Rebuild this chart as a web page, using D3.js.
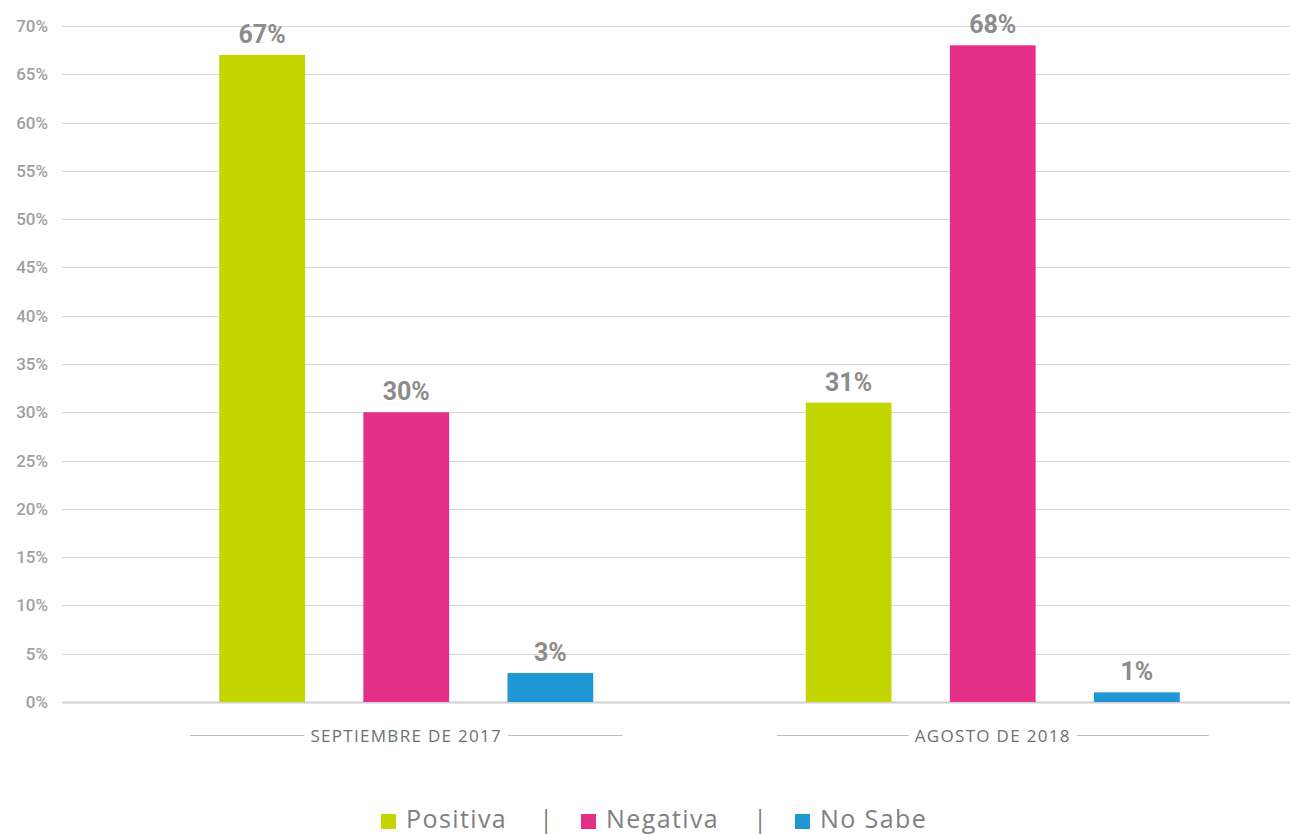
<!DOCTYPE html>
<html><head><meta charset="utf-8">
<script src="https://cdn.jsdelivr.net/npm/d3@7"></script>
<style>body{margin:0;background:#fff}svg{display:block}</style>
</head><body>
<svg id="c" width="1290" height="834"></svg>
<script>
const categories = ["SEPTIEMBRE DE 2017", "AGOSTO DE 2018"];
const seriesNames = ["Positiva", "Negativa", "No Sabe"];
const positiva = [67, 31];
const negativa = [30, 68];
const noSabe = [3, 1];
const yTicks = [0,5,10,15,20,25,30,35,40,45,50,55,60,65,70];
const colors = ["#c4d600", "#e52e87", "#1e97d4"];

const seriesValues = [positiva, negativa, noSabe];
const svg = d3.select("#c");
const y = d3.scaleLinear().domain([0,70]).range([702,26]);
const x0 = d3.scaleBand().domain(categories).range([113,1286]).padding(0);
const x1 = d3.scaleBand().domain(seriesNames)
  .range([x0.bandwidth()/2 - 187, x0.bandwidth()/2 + 187]).paddingInner(0.405).paddingOuter(0);

// grid
svg.append("g").selectAll("line").data(yTicks).join("line")
  .attr("x1",62).attr("x2",1290)
  .attr("y1",d=>Math.round(y(d))+0.5).attr("y2",d=>Math.round(y(d))+0.5)
  .attr("stroke",d=>d===0?"#cfcfcf":"#d6d6d6").attr("stroke-width",d=>d===0?2:1);

// y tick labels
svg.append("g").selectAll("text").data(yTicks).join("text")
  .attr("x",48).attr("y",d=>y(d)+6).attr("text-anchor","end")
  .attr("font-family","Roboto, sans-serif").attr("font-weight",500)
  .attr("font-size",17).attr("fill","#a0a0a0").text(d=>d+"%");

// bars
const groups = svg.append("g").selectAll("g").data(categories).join("g")
  .attr("transform",d=>`translate(${x0(d)},0)`);
groups.each(function(cat,ci){
  const g = d3.select(this);
  seriesNames.forEach((s,si)=>{
    const v = seriesValues[si][ci];
    g.append("rect").attr("x",x1(s)).attr("width",x1.bandwidth())
      .attr("y",y(v)).attr("height",y(0)-y(v)).attr("fill",colors[si]);
    g.append("text").attr("x",x1(s)+x1.bandwidth()/2).attr("y",y(v)-12)
      .attr("text-anchor","middle").attr("font-family","Roboto, sans-serif")
      .attr("font-weight",700).attr("font-size",25).attr("fill","#8c8c8c")
      .text(v+"%");
  });
  // category label with lines
  const cx = x0.bandwidth()/2;
  const t = g.append("text").attr("x",cx).attr("y",742).attr("text-anchor","middle")
    .attr("font-family","'Open Sans', sans-serif").attr("font-size",17)
    .attr("letter-spacing",1.3).attr("fill","#6f6f6f").text(cat);
  const w = t.node().getComputedTextLength();
  g.append("line").attr("x1",cx-216).attr("x2",cx-w/2-6).attr("y1",735.5).attr("y2",735.5)
    .attr("stroke","#bdbdbd");
  g.append("line").attr("x1",cx+w/2+6).attr("x2",cx+216).attr("y1",735.5).attr("y2",735.5)
    .attr("stroke","#bdbdbd");
});

// legend
const lg = svg.append("g");
const legendX = [381, 581, 795];
const sepX = [546, 760];
seriesNames.forEach((s,i)=>{
  lg.append("rect").attr("x",legendX[i]).attr("y",814).attr("width",15).attr("height",15).attr("fill",colors[i]);
  lg.append("text").attr("x",legendX[i]+25).attr("y",828)
    .attr("font-family","'Open Sans', sans-serif").attr("font-size",25)
    .attr("letter-spacing",1.4).attr("fill","#808080").text(s);
});
sepX.forEach(x=>{
  lg.append("text").attr("x",x).attr("y",828).attr("text-anchor","middle")
    .attr("font-family","'Open Sans', sans-serif").attr("font-size",25)
    .attr("fill","#808080").text("|");
});
</script>
</body></html>
